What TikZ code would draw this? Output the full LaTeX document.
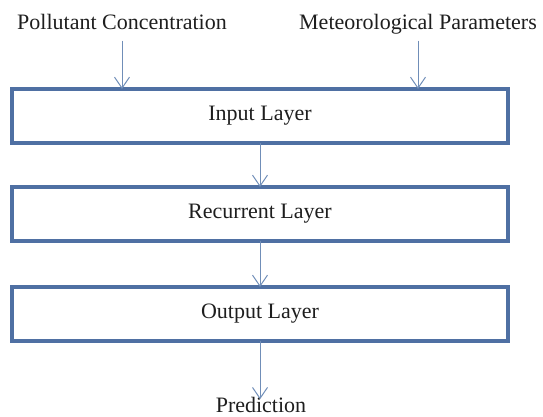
\documentclass[tikz,border=0pt]{standalone}
\usepackage{fontspec}
\setmainfont{Liberation Serif}
\usetikzlibrary{positioning,arrows.meta}
\definecolor{layerblue}{RGB}{79,112,163}
\definecolor{flowblue}{RGB}{112,142,184}
\definecolor{inkgray}{RGB}{30,30,30}
\tikzset{layer box/.style={draw=layerblue,line width=4pt,rectangle,minimum width=496pt,minimum height=54pt,outer sep=0pt,text=inkgray,font=\fontsize{22}{26}\selectfont}}
\tikzset{caption text/.style={text=inkgray,font=\fontsize{22}{26}\selectfont,text height=0.75em,text depth=0.25em,inner sep=3pt}}
\tikzset{flow edge/.style={draw=flowblue,line width=1pt,-{Straight Barb[length=11pt,width=15pt]}}}

\begin{document}
\begin{tikzpicture}[x=1pt,y=-1pt]
\useasboundingbox (0,0) rectangle (543,416);

\node[layer box] (input) at (260,116) {Input Layer};
\node[layer box,below=44pt of input] (recurrent) {Recurrent Layer};
\node[layer box,below=46pt of recurrent] (output) {Output Layer};

\node[caption text,anchor=base] (pollutant) at (122,29) {Pollutant Concentration};
\node[caption text,anchor=base] (meteo) at (418,29) {Meteorological Parameters};
\node[caption text,anchor=base] (prediction) at (261,412) {Prediction};

\draw[flow edge,shorten <=6pt] (pollutant) -- (pollutant |- input.north);
\draw[flow edge,shorten <=6pt] (meteo) -- (meteo |- input.north);
\draw[flow edge] (input) -- (recurrent);
\draw[flow edge] (recurrent) -- (output);
\draw[flow edge,shorten >=2pt] (output.south) -- (output.south |- prediction.north);

\end{tikzpicture}
\end{document}
